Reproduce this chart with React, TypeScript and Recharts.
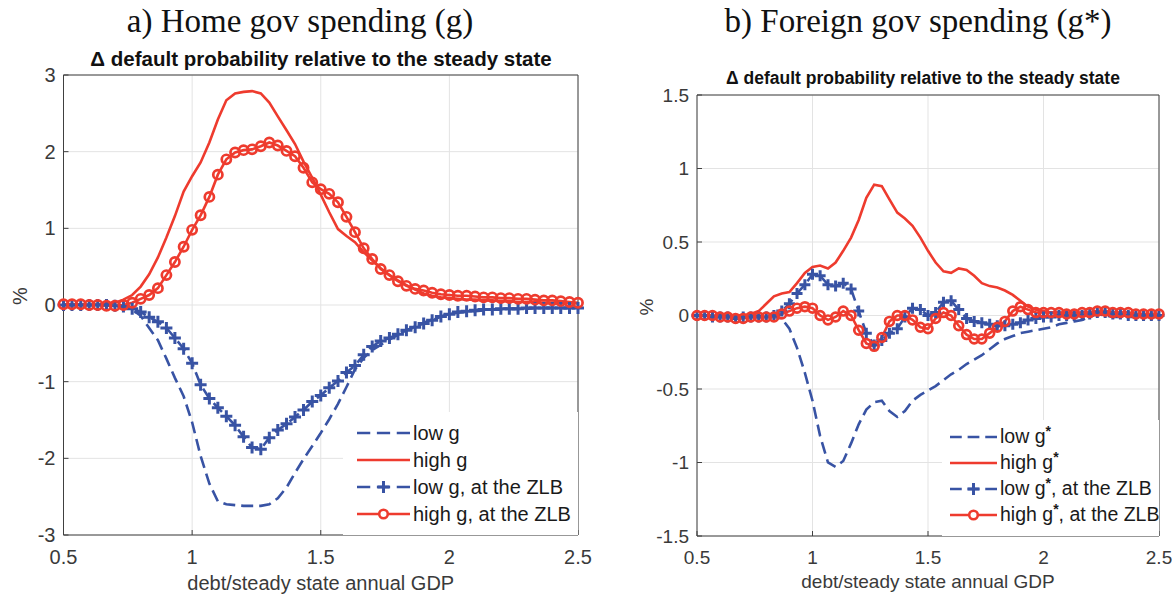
import React from 'react';
import { LineChart, Line, XAxis, YAxis, CartesianGrid, Legend } from 'recharts';

// ---------------- data ----------------
const debtRatio = [
  0.5, 0.533, 0.567, 0.6, 0.633, 0.667, 0.7, 0.733, 0.767, 0.8,
  0.833, 0.867, 0.9, 0.933, 0.967, 1, 1.033, 1.067, 1.1, 1.133,
  1.167, 1.2, 1.233, 1.267, 1.3, 1.333, 1.367, 1.4, 1.433, 1.467,
  1.5, 1.533, 1.567, 1.6, 1.633, 1.667, 1.7, 1.733, 1.767, 1.8,
  1.833, 1.867, 1.9, 1.933, 1.967, 2, 2.033, 2.067, 2.1, 2.133,
  2.167, 2.2, 2.233, 2.267, 2.3, 2.333, 2.367, 2.4, 2.433, 2.467,
  2.5,
];

const xTicks = [0.5, 1, 1.5, 2, 2.5];
const homeYTicks = [-3, -2, -1, 0, 1, 2, 3];
const foreignYTicks = [-1.5, -1, -0.5, 0, 0.5, 1, 1.5];

// a) Home gov spending (g)
const homeLowG = [
  0, 0, 0, 0, 0, 0, -0.01, -0.02, -0.06, -0.14,
  -0.3, -0.46, -0.7, -0.95, -1.19, -1.53, -1.97, -2.33, -2.56, -2.6,
  -2.61, -2.62, -2.62, -2.62, -2.6, -2.52, -2.38, -2.19, -2.01, -1.84,
  -1.67, -1.49, -1.29, -1.07, -0.84, -0.69, -0.59, -0.52, -0.45, -0.39,
  -0.33, -0.28, -0.23, -0.19, -0.15, -0.12, -0.1, -0.09, -0.08, -0.07,
  -0.06, -0.06, -0.05, -0.05, -0.05, -0.04, -0.04, -0.04, -0.04, -0.04,
  -0.04,
];
const homeHighG = [
  0, 0, 0, 0, 0.01, 0.01, 0.03, 0.07, 0.13, 0.24,
  0.4, 0.62, 0.88, 1.16, 1.48, 1.68, 1.86, 2.12, 2.42, 2.67,
  2.76, 2.78, 2.79, 2.76, 2.64, 2.46, 2.28, 2.1, 1.87, 1.66,
  1.44, 1.21, 0.99, 0.9, 0.82, 0.69, 0.58, 0.48, 0.39, 0.32,
  0.26, 0.2, 0.15, 0.12, 0.1, 0.09, 0.08, 0.07, 0.07, 0.06,
  0.06, 0.05, 0.05, 0.04, 0.04, 0.04, 0.03, 0.03, 0.03, 0.02,
  0.02,
];
const homeLowZlb = [
  0, 0, 0, 0, 0, 0, -0.01, -0.02, -0.05, -0.09,
  -0.16, -0.22, -0.3, -0.43, -0.57, -0.76, -1.04, -1.22, -1.34, -1.45,
  -1.57, -1.72, -1.86, -1.88, -1.73, -1.63, -1.55, -1.46, -1.37, -1.26,
  -1.18, -1.08, -0.99, -0.88, -0.79, -0.65, -0.54, -0.47, -0.43, -0.38,
  -0.33, -0.29, -0.24, -0.2, -0.15, -0.12, -0.09, -0.08, -0.07, -0.06,
  -0.06, -0.05, -0.05, -0.05, -0.04, -0.04, -0.04, -0.04, -0.04, -0.04,
  -0.04,
];
const homeHighZlb = [
  0.01, 0.01, 0.01, 0, 0, -0.01, -0.01, 0, 0.03, 0.08,
  0.13, 0.22, 0.39, 0.56, 0.76, 0.98, 1.17, 1.41, 1.7, 1.9,
  1.99, 2.02, 2.03, 2.07, 2.12, 2.08, 2.01, 1.94, 1.79, 1.6,
  1.51, 1.45, 1.34, 1.15, 0.95, 0.74, 0.6, 0.47, 0.39, 0.31,
  0.25, 0.21, 0.19, 0.16, 0.14, 0.13, 0.12, 0.12, 0.11, 0.1,
  0.1, 0.09, 0.09, 0.08, 0.08, 0.07, 0.06, 0.06, 0.05, 0.04,
  0.03,
];

// b) Foreign gov spending (g*)
const foreignLowG = [
  0, 0, 0, 0, 0, 0, 0, 0, 0, -0.01,
  -0.01, -0.02, -0.09, -0.22, -0.39, -0.58, -0.82, -1.0, -1.03, -0.99,
  -0.87, -0.74, -0.64, -0.59, -0.58, -0.65, -0.69, -0.65, -0.58, -0.54,
  -0.51, -0.48, -0.44, -0.4, -0.37, -0.33, -0.3, -0.27, -0.23, -0.19,
  -0.16, -0.14, -0.12, -0.11, -0.1, -0.09, -0.08, -0.06, -0.05, -0.04,
  -0.03, -0.01, 0.01, 0, -0.01, -0.01, -0.01, -0.01, -0.01, -0.01,
  -0.01,
];
const foreignHighG = [
  0, 0, 0, 0, 0, 0, 0, 0.01, 0.03, 0.08,
  0.13, 0.15, 0.16, 0.22, 0.29, 0.33, 0.34, 0.32, 0.36, 0.44,
  0.53, 0.65, 0.8, 0.89, 0.88, 0.79, 0.7, 0.66, 0.61, 0.53,
  0.44, 0.36, 0.3, 0.29, 0.32, 0.31, 0.27, 0.22, 0.2, 0.19,
  0.17, 0.14, 0.1, 0.06, 0.04, 0.03, 0.02, 0.02, 0.02, 0.02,
  0.02, 0.02, 0.03, 0.03, 0.02, 0.02, 0.02, 0.01, 0.01, 0.01,
  0.01,
];
const foreignLowZlb = [
  0, 0, -0.01, -0.01, -0.01, -0.02, -0.01, -0.01, -0.01, -0.01,
  0, 0.03, 0.08, 0.15, 0.21, 0.28, 0.27, 0.21, 0.2, 0.22,
  0.18, 0.03, -0.12, -0.2, -0.17, -0.12, -0.09, -0.01, 0.05, 0.04,
  0, 0.02, 0.09, 0.1, 0.04, -0.02, -0.04, -0.05, -0.06, -0.07,
  -0.07, -0.06, -0.05, -0.03, -0.02, -0.01, -0.01, 0, 0, 0,
  0, 0.01, 0.02, 0.02, 0.01, 0.01, 0, 0, 0, 0,
  0,
];
const foreignHighZlb = [
  0, 0, 0, -0.01, -0.01, -0.02, -0.02, -0.01, -0.01, -0.01,
  -0.01, 0.01, 0.03, 0.05, 0.06, 0.05, 0, -0.03, -0.01, 0.03,
  0, -0.1, -0.19, -0.21, -0.15, -0.04, 0, 0, -0.03, -0.08,
  -0.09, -0.02, 0.02, 0, -0.07, -0.13, -0.16, -0.16, -0.12, -0.08,
  -0.04, 0.03, 0.06, 0.04, 0.02, 0.02, 0.02, 0.02, 0.01, 0.01,
  0.02, 0.02, 0.03, 0.03, 0.02, 0.02, 0.02, 0.01, 0.01, 0.01,
  0.01,
];

// ---------------- styling ----------------
const FONT = '"Liberation Sans", Arial, Helvetica, sans-serif';
const SERIF = '"Liberation Serif", "Times New Roman", serif';
const BLUE = '#3853A4';
const RED = '#EE3B2E';
const AXIS = '#404040';
const GRID = '#e3e3e3';
const TEXT = '#3a3a3a';
const DASH = '12 6';
const LINE_W = 2.6;

type Row = { x: number; low: number; high: number; lowZlb: number; highZlb: number };

const buildRows = (x: number[], a: number[], b: number[], c: number[], d: number[]): Row[] =>
  x.map((v, i) => ({ x: v, low: a[i], high: b[i], lowZlb: c[i], highZlb: d[i] }));

const homeRows = buildRows(debtRatio, homeLowG, homeHighG, homeLowZlb, homeHighZlb);
const foreignRows = buildRows(debtRatio, foreignLowG, foreignHighG, foreignLowZlb, foreignHighZlb);

const makePlusDot = (size: number, width: number) => (props: any) => {
  const { cx, cy, index } = props;
  if (cx == null || cy == null) return <g key={`pl-${index}`} />;
  return (
    <path
      key={`pl-${index}`}
      d={`M${cx - size},${cy}H${cx + size}M${cx},${cy - size}V${cy + size}`}
      stroke={BLUE}
      strokeWidth={width}
      strokeDasharray="none"
      fill="none"
    />
  );
};

const makeCircleDot = (r: number, width: number) => (props: any) => {
  const { cx, cy, index } = props;
  if (cx == null || cy == null) return <g key={`ci-${index}`} />;
  return (
    <circle key={`ci-${index}`} cx={cx} cy={cy} r={r} stroke={RED} strokeWidth={width} fill="none" />
  );
};

type Kind = 'low' | 'high' | 'lowZlb' | 'highZlb';

function Sample({ kind, w }: { kind: Kind; w: number }) {
  const h = 16;
  const cy = 8;
  const isBlue = kind === 'low' || kind === 'lowZlb';
  const color = isBlue ? BLUE : RED;
  const seg = w / 4;
  const dash = isBlue ? `${seg} ${(w - 3 * seg) / 2}` : undefined;
  return (
    <svg width={w} height={h} style={{ display: 'block', overflow: 'visible', flex: 'none' }}>
      <line x1={0} y1={cy} x2={w} y2={cy} stroke={color} strokeWidth={LINE_W} strokeDasharray={dash} />
      {kind === 'lowZlb' && (
        <path d={`M${w / 2 - 6},${cy}H${w / 2 + 6}M${w / 2},${cy - 6}V${cy + 6}`} stroke={BLUE} strokeWidth={3} />
      )}
      {kind === 'highZlb' && <circle cx={w / 2} cy={cy} r={4.3} fill="#fff" stroke={RED} strokeWidth={2.6} />}
    </svg>
  );
}

type LegendCfg = {
  left: number;
  top: number;
  width: number;
  height: number;
  padTop: number;
  padLeft: number;
  rowH: number;
  sampleW: number;
  fontSize: number;
  labels: React.ReactNode[];
};

function LegendBox({ cfg }: { cfg: LegendCfg }) {
  const kinds: Kind[] = ['low', 'high', 'lowZlb', 'highZlb'];
  return (
    <div
      style={{
        background: '#fff',
        width: cfg.width,
        height: cfg.height,
        boxSizing: 'border-box',
        paddingTop: cfg.padTop,
        paddingLeft: cfg.padLeft,
        fontFamily: FONT,
        fontSize: cfg.fontSize,
        color: '#1a1a1a',
      }}
    >
      {kinds.map((k, i) => (
        <div key={k} style={{ display: 'flex', alignItems: 'center', height: cfg.rowH, whiteSpace: 'nowrap' }}>
          <Sample kind={k} w={cfg.sampleW} />
          <span style={{ marginLeft: 3, lineHeight: 1 }}>{cfg.labels[i]}</span>
        </div>
      ))}
    </div>
  );
}

const Star = () => (
  <sup style={{ fontSize: '0.72em', verticalAlign: '0.5em', lineHeight: 0, fontWeight: 700 }}>*</sup>
);

type PanelProps = {
  data: Row[];
  left: number;
  width: number;
  margin: { top: number; right: number; bottom: number; left: number };
  yAxisWidth: number;
  yDomain: [number, number];
  yTicks: number[];
  fontSize: number;
  xLabelOffset: number;
  pctOffset: number;
  legend: LegendCfg;
  plusSize: number;
  circleR: number;
};

function Panel(p: PanelProps) {
  const tickStyle = { fontSize: p.fontSize, fill: TEXT, fontFamily: FONT };
  return (
    <div style={{ position: 'absolute', left: p.left, top: 0 }}>
      <LineChart width={p.width} height={595} data={p.data} margin={p.margin}>
        <CartesianGrid stroke={GRID} strokeWidth={1} />
        <XAxis
          dataKey="x"
          type="number"
          domain={[0.5, 2.5]}
          ticks={xTicks}
          interval={0}
          tick={tickStyle}
          tickLine={{ stroke: AXIS }}
          tickSize={-5}
          tickMargin={20}
          axisLine={{ stroke: AXIS }}
          height={30}
          label={{
            value: 'debt/steady state annual GDP',
            position: 'bottom',
            offset: p.xLabelOffset,
            fill: TEXT,
            fontSize: p.fontSize,
            fontFamily: FONT,
          }}
        />
        <XAxis
          xAxisId="top"
          orientation="top"
          dataKey="x"
          type="number"
          domain={[0.5, 2.5]}
          ticks={xTicks}
          interval={0}
          tick={false}
          tickLine={{ stroke: AXIS }}
          tickSize={-5}
          axisLine={{ stroke: AXIS }}
          height={1}
        />
        <YAxis
          type="number"
          domain={p.yDomain}
          ticks={p.yTicks}
          interval={0}
          tick={tickStyle}
          tickLine={{ stroke: AXIS }}
          tickSize={-5}
          tickMargin={13}
          axisLine={{ stroke: AXIS }}
          width={p.yAxisWidth}
          label={{
            value: '%',
            angle: -90,
            position: 'insideLeft',
            offset: p.pctOffset,
            fill: TEXT,
            fontSize: p.fontSize,
            fontFamily: FONT,
          }}
        />
        <YAxis
          yAxisId="right"
          orientation="right"
          type="number"
          domain={p.yDomain}
          ticks={p.yTicks}
          interval={0}
          tick={false}
          tickLine={{ stroke: AXIS }}
          tickSize={-5}
          axisLine={{ stroke: AXIS }}
          width={1}
        />
        <Line
          type="linear"
          dataKey="low"
          stroke={BLUE}
          strokeWidth={LINE_W}
          strokeDasharray={DASH}
          dot={false}
          activeDot={false}
          isAnimationActive={false}
        />
        <Line
          type="linear"
          dataKey="high"
          stroke={RED}
          strokeWidth={LINE_W}
          dot={false}
          activeDot={false}
          isAnimationActive={false}
        />
        <Line
          type="linear"
          dataKey="lowZlb"
          stroke={BLUE}
          strokeWidth={LINE_W}
          strokeDasharray={DASH}
          dot={makePlusDot(p.plusSize, 3)}
          activeDot={false}
          isAnimationActive={false}
        />
        <Line
          type="linear"
          dataKey="highZlb"
          stroke={RED}
          strokeWidth={LINE_W}
          dot={makeCircleDot(p.circleR, 2.7)}
          activeDot={false}
          isAnimationActive={false}
        />
        <Legend
          layout="vertical"
          align="center"
          verticalAlign="middle"
          wrapperStyle={{
            left: p.legend.left,
            top: p.legend.top,
            width: p.legend.width,
            height: p.legend.height,
          }}
          content={() => <LegendBox cfg={p.legend} />}
        />
      </LineChart>
    </div>
  );
}

const homeLegend: LegendCfg = {
  left: 343,
  top: 412,
  width: 235,
  height: 123,
  padTop: 7,
  padLeft: 14,
  rowH: 27,
  sampleW: 53,
  fontSize: 20,
  labels: ['low g', 'high g', 'low g, at the ZLB', 'high g, at the ZLB'],
};

const foreignLegend: LegendCfg = {
  left: 352,
  top: 420,
  width: 217,
  height: 116,
  padTop: 4,
  padLeft: 8,
  rowH: 26,
  sampleW: 47,
  fontSize: 19.5,
  labels: [
    <>low g<Star /></>,
    <>high g<Star /></>,
    <>low g<Star />, at the ZLB</>,
    <>high g<Star />, at the ZLB</>,
  ],
};

export default function App() {
  return (
    <div style={{ position: 'absolute', left: 0, top: 0, width: 1172, height: 595, background: '#fff', overflow: 'hidden' }}>
      <svg width={1172} height={595} style={{ position: 'absolute', left: 0, top: 0 }}>
        <text x={300} y={32} textAnchor="middle" fontFamily={SERIF} fontSize={33} fill="#111">
          a) Home gov spending (g)
        </text>
        <text x={918} y={32} textAnchor="middle" fontFamily={SERIF} fontSize={33} fill="#111">
          b) Foreign gov spending (g*)
        </text>
        <text x={321} y={66} textAnchor="middle" fontFamily={FONT} fontWeight={700} fontSize={20.5} fill="#111">
          Δ default probability relative to the steady state
        </text>
        <text x={923} y={84} textAnchor="middle" fontFamily={FONT} fontWeight={700} fontSize={17.5} fill="#111">
          Δ default probability relative to the steady state
        </text>
      </svg>
      <Panel
        data={homeRows}
        left={0}
        width={600}
        margin={{ top: 74, right: 21, bottom: 30, left: 5 }}
        yAxisWidth={58.5}
        yDomain={[-3, 3]}
        yTicks={homeYTicks}
        fontSize={20}
        xLabelOffset={11}
        pctOffset={15}
        legend={homeLegend}
        plusSize={6}
        circleR={4.6}
      />
      <Panel
        data={foreignRows}
        left={590}
        width={582}
        margin={{ top: 94, right: 12, bottom: 29, left: 40 }}
        yAxisWidth={67}
        yDomain={[-1.5, 1.5]}
        yTicks={foreignYTicks}
        fontSize={19}
        xLabelOffset={9}
        pctOffset={16}
        legend={foreignLegend}
        plusSize={5.5}
        circleR={4.4}
      />
    </div>
  );
}
